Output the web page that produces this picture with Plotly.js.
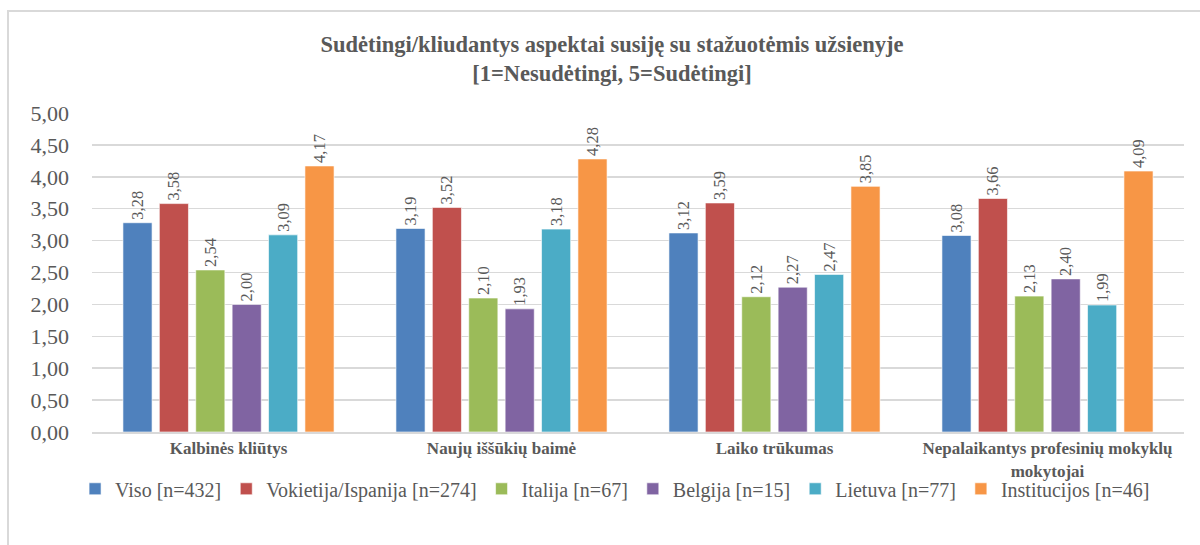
<!DOCTYPE html>
<html>
<head>
<meta charset="utf-8">
<script src="https://cdn.plot.ly/plotly-3.0.1.min.js"></script>
<style>
html,body{margin:0;padding:0;background:#fff;}
#wrap{position:relative;width:1200px;height:545px;overflow:hidden;}
#frame{position:absolute;left:7px;top:10px;width:1300px;height:700px;border-left:2px solid #d9d9d9;border-top:2px solid #d9d9d9;}
#chart{position:absolute;left:0;top:0;width:1200px;height:545px;}
</style>
</head>
<body>
<div id="wrap"><div id="frame"></div><div id="chart"></div></div>
<script>
const categories = ["Kalbinės kliūtys", "Naujų iššūkių baimė", "Laiko trūkumas", "Nepalaikantys profesinių mokyklų<br>mokytojai"];
const seriesNames = ["Viso [n=432]", "Vokietija/Ispanija [n=274]", "Italija [n=67]", "Belgija [n=15]", "Lietuva [n=77]", "Institucijos [n=46]"];
const viso = [3.28, 3.19, 3.12, 3.08];
const vokietijaIspanija = [3.58, 3.52, 3.59, 3.66];
const italija = [2.54, 2.10, 2.12, 2.13];
const belgija = [2.00, 1.93, 2.27, 2.40];
const lietuva = [3.09, 3.18, 2.47, 1.99];
const institucijos = [4.17, 4.28, 3.85, 4.09];
const yTicks = [0, 0.5, 1, 1.5, 2, 2.5, 3, 3.5, 4, 4.5, 5];

const seriesValues = [viso, vokietijaIspanija, italija, belgija, lietuva, institucijos];
const colors = ["#4F81BD", "#C0504D", "#9BBB59", "#8064A2", "#4BACC6", "#F79646"];
const fmt = v => v.toFixed(2).replace(".", ",");
const serif = "Liberation Serif";

const traces = seriesValues.map((vals, i) => ({
  type: "bar",
  name: seriesNames[i],
  x: categories,
  y: vals,
  marker: {color: colors[i], line: {color: "rgba(255,255,255,0.6)", width: 1}},
  text: vals.map(fmt),
  textposition: "outside",
  textangle: -90,
  cliponaxis: false,
  textfont: {family: serif, size: 16.5, color: "#595959"},
  hoverinfo: "skip"
}));

const layout = {
  width: 1200, height: 545,
  margin: {l: 92, r: 16, t: 113, b: 113},
  paper_bgcolor: "rgba(0,0,0,0)",
  plot_bgcolor: "rgba(0,0,0,0)",
  title: {
    text: "<b>Sudėtingi/kliudantys aspektai susiję su stažuotėmis užsienyje<br>[1=Nesudėtingi, 5=Sudėtingi]</b>",
    font: {family: serif, size: 22.5, color: "#595959"},
    x: 0.51, xanchor: "center", y: 0.905, yanchor: "middle"
  },
  barmode: "group",
  bargap: 0.2,
  bargroupgap: 0.2,
  showlegend: true,
  legend: {
    orientation: "h", x: 0.479, xanchor: "center", y: -0.178, yanchor: "middle",
    font: {family: serif, size: 20, color: "#595959"},
    itemwidth: 30, traceorder: "normal", tracegroupgap: 0
  },
  xaxis: {
    showgrid: false, showline: true, linecolor: "#d9d9d9", linewidth: 2,
    ticks: "", tickfont: {family: serif, size: 17, color: "#595959", weight: "bold"},
    tickangle: 0
  },
  yaxis: {
    range: [0, 5], tickvals: yTicks, ticktext: yTicks.map(fmt),
    showgrid: true, gridcolor: "#d9d9d9", gridwidth: 1.5,
    zeroline: false, showline: false, ticks: "",
    tickfont: {family: serif, size: 22, color: "#595959"},
    ticklen: 0, ticklabelstandoff: 22
  },
  font: {family: serif}
};

Plotly.newPlot("chart", traces, layout, {displayModeBar: false, staticPlot: true});
</script>
</body>
</html>
